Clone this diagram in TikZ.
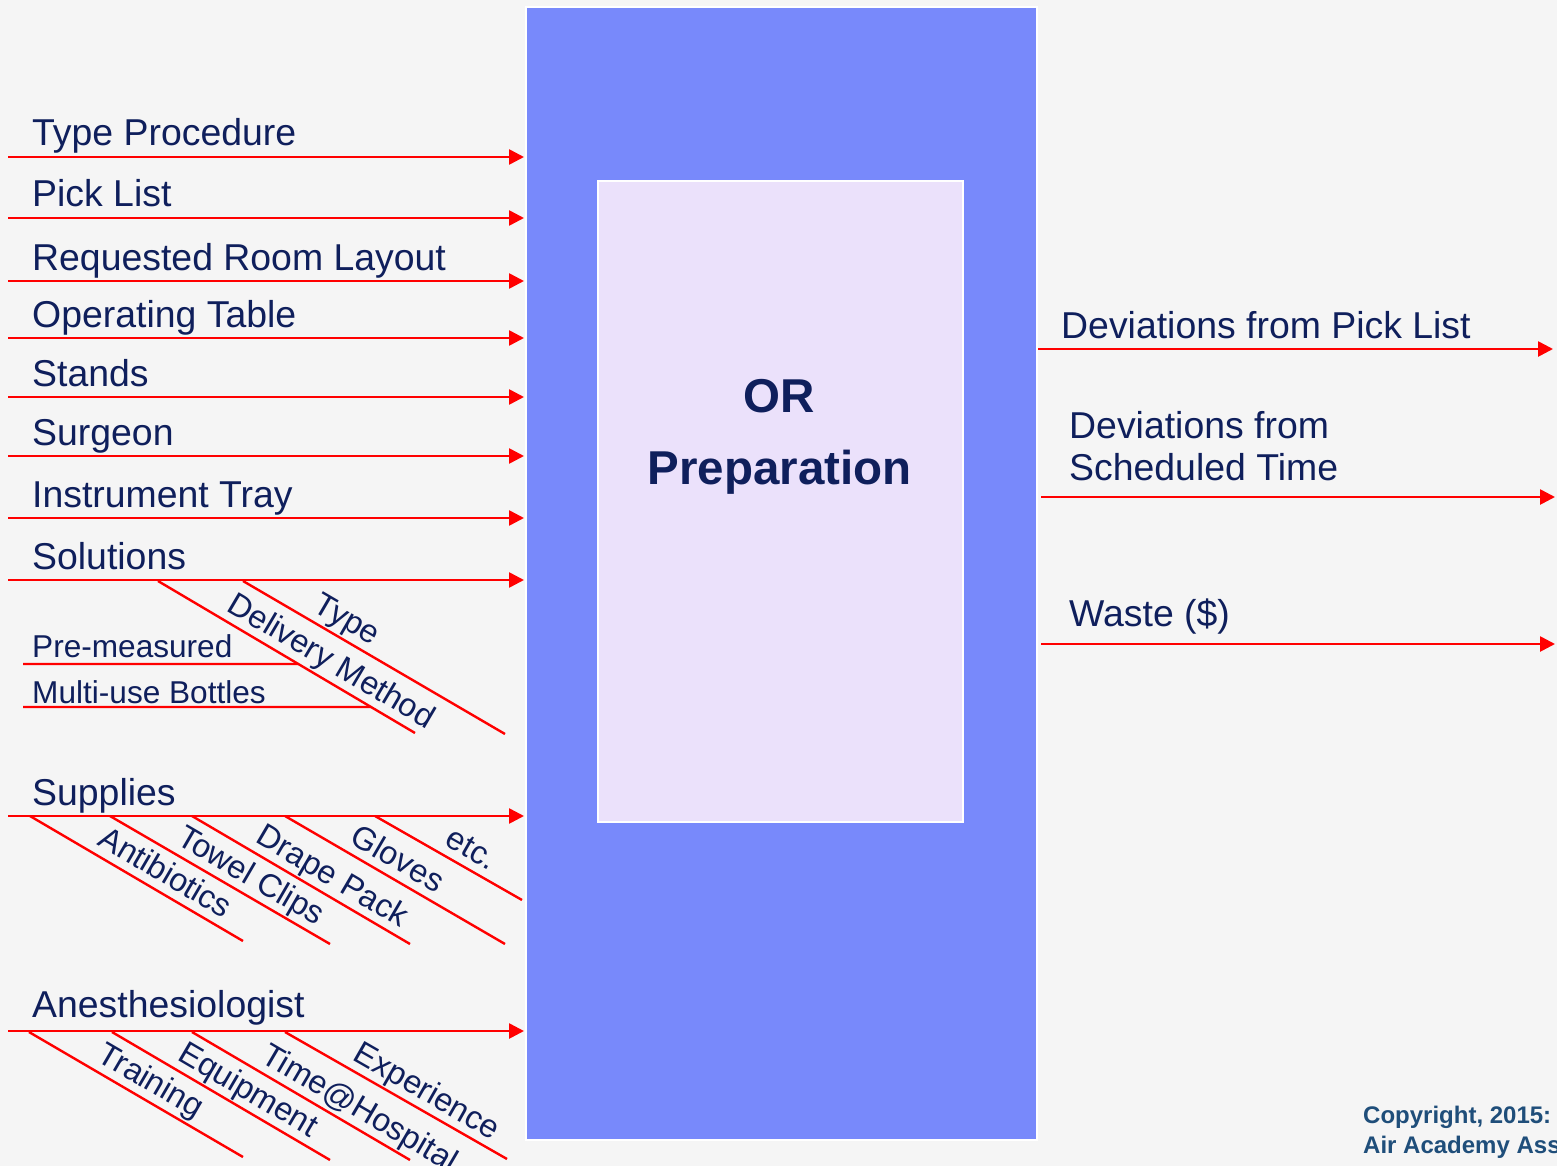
\documentclass[tikz,border=0pt]{standalone}
\usepackage{fontspec}
\setmainfont{Liberation Sans}
\usetikzlibrary{arrows.meta,calc}

\definecolor{bgc}{HTML}{F5F5F5}
\definecolor{outerblue}{HTML}{7889FB}
\definecolor{innerlav}{HTML}{EBE1FB}
\definecolor{ink}{HTML}{0F1F5C}
\definecolor{copyc}{HTML}{1F4E7A}
\definecolor{flow}{HTML}{FF0000}

\tikzset{
  biglabel/.style={font=\fontsize{37.4}{44}\selectfont, text=ink, inner sep=0pt, anchor=base west},
  smalllabel/.style={font=\fontsize{31.6}{37}\selectfont, text=ink, inner sep=0pt, anchor=base west},
  slabel/.style={font=\fontsize{32.4}{38}\selectfont, text=ink, sloped, anchor=south west,
                 inner sep=0pt, text depth=0pt, yshift=8pt},
  flowarrow/.style={draw=flow, line width=2.6pt,
                    -{Triangle[length=15pt,width=15pt]}, shorten >=1pt},
  flowline/.style={draw=flow, line width=2.4pt},
  titlelabel/.style={font=\bfseries\fontsize{47.5}{56}\selectfont, text=ink, inner sep=0pt, anchor=base},
  copylabel/.style={font=\bfseries\fontsize{24}{29}\selectfont, text=copyc, inner sep=0pt, anchor=base west},
}

\begin{document}
\begin{tikzpicture}[x=1pt,y=-1pt]
  \useasboundingbox (0,0) rectangle (1557,1166);
  \fill[bgc] (0,0) rectangle (1557,1166);

  % process block
  \node[draw=white, line width=2pt, fill=outerblue, minimum width=511pt,
        minimum height=1133pt, inner sep=0pt, anchor=north west] (ctx) at (525,6) {};
  \node[draw=white, line width=2pt, fill=innerlav, minimum width=365pt,
        minimum height=641pt, inner sep=0pt, anchor=north west] (core) at (597,180) {};
  \node[titlelabel] (ttlA) at (779,412) {OR};
  \node[titlelabel] (ttlB) at (779.5,484) {Preparation};

  % simple inputs
  \foreach \nm/\yy/\txt in {tp/157/Type Procedure, pl/218/Pick List,
      rl/281/Requested Room Layout, ot/338/Operating Table, st/397/Stands,
      sg/456/Surgeon, it/518/Instrument Tray, so/580/Solutions,
      su/816/Supplies} {
    \coordinate (\nm) at (8,\yy);
    \node[biglabel] (\nm-lbl) at (32,\yy-11) {\txt};
    \draw[flowarrow] (\nm) -- (\nm -| ctx.west);
  }
  \coordinate (an) at (8,1031);
  \node[biglabel] (an-lbl) at (32,1017) {Anesthesiologist};
  \draw[flowarrow] (an) -- (an -| ctx.west);

  % solutions branches
  \coordinate (so1a) at (158,581);  \coordinate (so1b) at (415,733);
  \coordinate (so2a) at (243,581);  \coordinate (so2b) at (505,734);
  \draw[flowline] (so1a) -- node[slabel, pos=0.24] (dm) {Delivery Method} (so1b);
  \draw[flowline] (so2a) -- node[slabel, pos=0.24] (ty) {Type} (so2b);
  \coordinate (pm) at (23,664);
  \coordinate (mb) at (23,707);
  \node[smalllabel] (pm-lbl) at (32,657) {Pre-measured};
  \node[smalllabel] (mb-lbl) at (32,703) {Multi-use Bottles};
  \draw[flowline] (pm) -- (intersection of pm--{$(pm)+(10,0)$} and so1a--so1b);
  \draw[flowline] (mb) -- (intersection of mb--{$(mb)+(10,0)$} and so1a--so1b);

  % supplies branches
  \coordinate (su1a) at (30,816);   \coordinate (su1b) at (243,941);
  \coordinate (su2a) at (110,816);  \coordinate (su2b) at (330,944);
  \coordinate (su3a) at (192,816);  \coordinate (su3b) at (410,944);
  \coordinate (su4a) at (285,816);  \coordinate (su4b) at (505,944);
  \coordinate (su5a) at (375,816);  \coordinate (su5b) at (522,900);
  \draw[flowline] (su1a) -- node[slabel, pos=0.285] (ab) {Antibiotics} (su1b);
  \draw[flowline] (su2a) -- node[slabel, pos=0.27] (tc) {Towel Clips} (su2b);
  \draw[flowline] (su3a) -- node[slabel, pos=0.26] (dp) {Drape Pack} (su3b);
  \draw[flowline] (su4a) -- node[slabel, pos=0.265] (gl) {Gloves} (su4b);
  \draw[flowline] (su5a) -- node[slabel, pos=0.43] (ec) {etc.} (su5b);

  % anesthesiologist branches
  \coordinate (an1a) at (29,1032);  \coordinate (an1b) at (243,1157);
  \coordinate (an2a) at (112,1032); \coordinate (an2b) at (330,1160);
  \coordinate (an3a) at (192,1032); \coordinate (an3b) at (410,1160);
  \coordinate (an4a) at (285,1032); \coordinate (an4b) at (507,1159);
  \draw[flowline] (an1a) -- node[slabel, pos=0.285] (tr) {Training} (an1b);
  \draw[flowline] (an2a) -- node[slabel, pos=0.27] (eq) {Equipment} (an2b);
  \draw[flowline] (an3a) -- node[slabel, pos=0.285] (th) {Time@Hospital} (an3b);
  \draw[flowline] (an4a) -- node[slabel, pos=0.275] (ex) {Experience} (an4b);

  % outputs
  \coordinate (o1) at (1553,349);
  \coordinate (o2) at (1555,497);
  \coordinate (o3) at (1555,644);
  \draw[flowarrow, shorten >=0pt] (o1 -| ctx.east) -- (o1);
  \draw[flowarrow, shorten >=0pt] ([xshift=3pt]o2 -| ctx.east) -- (o2);
  \draw[flowarrow, shorten >=0pt] ([xshift=3pt]o3 -| ctx.east) -- (o3);
  \node[biglabel] (o1-lbl) at (1061,338) {Deviations from Pick List};
  \node[biglabel] (o2-lblA) at (1069,438) {Deviations from};
  \node[biglabel] (o2-lblB) at (1069,480) {Scheduled Time};
  \node[biglabel] (o3-lbl) at (1069,626) {Waste (\$)};

  % footer
  \node[copylabel] (cpA) at (1363,1123) {Copyright, 2015:};
  \node[copylabel] (cpB) at (1363,1153) {Air Academy Associates};
\end{tikzpicture}
\end{document}
